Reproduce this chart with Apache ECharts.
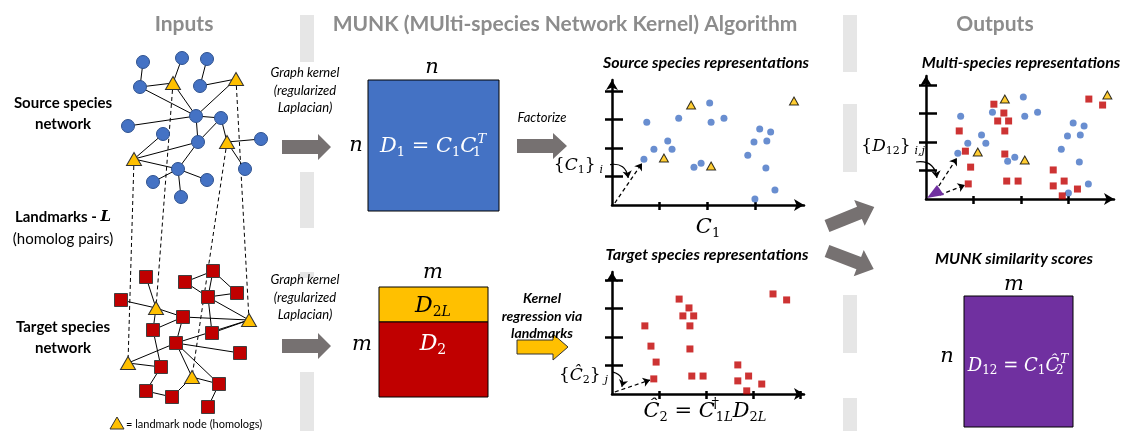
<!DOCTYPE html>
<html>
<head>
<meta charset="utf-8">
<script src="https://cdn.jsdelivr.net/npm/echarts@6/dist/echarts.min.js"></script>
<style>
  html, body { margin: 0; padding: 0; background: #fff; }
  #chart { width: 1126px; height: 431px; }
</style>
</head>
<body>
<div id="chart"></div>
<script>
// ---- network layouts (pixel positions of the drawn nodes) ----
var srcCircles = [[143,62],[182,58],[207,59],[140,87],[200,86],[196,116],[221,118],[128,126],
  [163,134],[198,142],[261,139],[178,169],[245,169],[153,182],[207,180],[181,197]];
var srcLandmarks = [[173,83],[236,79],[227,142],[134,159]];
// indices: circles 0..15, landmarks 16..19
var srcEdges = [[0,3],[1,16],[2,4],[3,16],[3,5],[16,5],[4,17],[17,5],[7,5],[5,6],[5,9],
  [8,19],[19,9],[19,11],[9,11],[11,13],[11,14],[11,15],[6,18],[18,10],[18,12],[6,9]];

var tgtSquares = [[146,277],[185,282],[213,271],[237,293],[121,300],[208,297],[183,317],[153,330],
  [212,333],[176,343],[240,353],[161,367],[219,384],[146,391],[172,397],[208,407]];
var tgtLandmarks = [[156,308],[249,320],[128,363],[192,377]];
var tgtEdges = [[0,16],[4,16],[16,6],[6,17],[16,7],[1,2],[2,3],[2,5],[1,5],[5,3],[5,17],[5,8],
  [7,6],[6,9],[8,17],[9,17],[9,10],[9,18],[18,11],[7,11],[11,13],[9,12],[9,19],[19,12],[19,14],
  [13,14],[12,15]];

// homolog pairs: [source landmark, target landmark]
var landmarkPairs = [[0,0],[1,1],[2,3],[3,2]];

// ---- embeddings (axis units) ----
var srcEmbed = [[0.73,2.91],[1.40,3.05],[2.05,3.58],[2.08,2.91],[2.35,3.05],[1.17,2.25],[0.88,1.96],
  [1.26,1.96],[0.67,1.61],[1.72,1.33],[1.87,1.47],[2.85,1.75],[2.98,2.21],[3.10,2.67],[3.33,2.56],
  [3.25,2.25],[3.23,1.30],[3.42,0.53],[3.00,0.21]];
var landmarkEmbed = [[1.66,3.51],[3.82,3.65],[1.09,1.65],[2.08,1.37]];
var tgtEmbed = [[1.43,3.33],[1.64,3.02],[1.51,2.74],[1.74,2.74],[1.66,2.39],[0.70,2.39],[0.83,1.68],
  [1.66,1.58],[0.94,1.12],[0.89,0.53],[1.70,0.63],[1.94,0.63],[2.68,1.02],[2.68,0.46],[2.91,0.63],
  [3.19,0.35],[2.87,0.11],[3.43,3.51],[3.72,3.30]];

// tick positions
var srcXTicks = [1, 2, 3];
var srcYTicks = [1, 2, 3, 4];
var tgtXTicks = [1, 2, 3, 4];
var tgtYTicks = [1, 2, 3, 4];
var multiXTicks = [1, 2, 3];
var multiYTicks = [1, 2, 3, 4];

// vectors drawn from the origin, and the curved pointers from the labels
var srcVectors = [[[0.06,0.07],[0.63,1.47]]];
var srcPointer = [[-0.04,1.42],[0.34,0.95]];
var tgtVectors = [[[0.06,0.07],[0.81,0.49]]];
var tgtPointer = [[0.02,0.77],[0.21,0.25]];
var multiVectors = [[[0.19,0.25],[0.65,1.44]], [[0.29,0.14],[0.82,0.49]]];
var multiPointer = [[-0.21,1.30],[0.23,0.74]];

var BLUE = '#4472C4', RED = '#C00000', YELLOW = '#FFC000', PURPLE = '#7030A0', GREY = '#767171';
var SANS = 'Lato, "Open Sans", sans-serif';
var MATH = '"DejaVu Serif", serif';

var chart = echarts.init(document.getElementById('chart'), null, { renderer: 'canvas' });

function netNodes(main, mainSymbol, mainSize, mainStyle, landmarks) {
  var nodes = main.map(function (p) {
    return { value: p, symbol: mainSymbol, symbolSize: mainSize, itemStyle: mainStyle };
  });
  return nodes.concat(landmarks.map(function (p) {
    return { value: p, symbol: 'triangle', symbolSize: [15, 13],
      itemStyle: { color: YELLOW, borderColor: '#333', borderWidth: 1 } };
  }));
}

function netSeries(nodes, edges) {
  return {
    type: 'graph', coordinateSystem: 'cartesian2d', xAxisIndex: 0, yAxisIndex: 0,
    layout: 'none', data: nodes,
    links: edges.map(function (e) { return { source: e[0], target: e[1] }; }),
    lineStyle: { color: '#000', width: 1, opacity: 1, curveness: 0 },
    label: { show: false }, emphasis: { disabled: true }, silent: true, z: 4
  };
}

// two axes per direction so the ticks cross the axis line
function plotAxes(grid, xMax, yMax, xTicks, yTicks) {
  var ls = { color: '#000', width: 2.5 };
  var base = { type: 'value', gridIndex: grid, min: 0, axisLabel: { show: false }, splitLine: { show: false } };
  var x1 = echarts.util.merge({ max: xMax, position: 'bottom',
    axisLine: { show: true, onZero: false, symbol: ['none', 'arrow'], symbolSize: [9, 10], lineStyle: ls },
    axisTick: { show: true, customValues: xTicks, length: 5, lineStyle: ls } }, base);
  var x2 = echarts.util.merge({ max: xMax, position: 'bottom', axisLine: { show: false },
    axisTick: { show: true, inside: true, customValues: xTicks, length: 3, lineStyle: ls } }, base);
  var y1 = echarts.util.merge({ max: yMax, position: 'left',
    axisLine: { show: true, onZero: false, symbol: ['none', 'arrow'], symbolSize: [9, 10], lineStyle: ls },
    axisTick: { show: true, customValues: yTicks, length: 7, lineStyle: ls } }, base);
  var y2 = echarts.util.merge({ max: yMax, position: 'left', axisLine: { show: false },
    axisTick: { show: true, inside: true, customValues: yTicks, length: 11, lineStyle: ls } }, base);
  return { x: [x1, x2], y: [y1, y2] };
}

function scatter(ax, data, symbol, size, style, z) {
  return { type: 'scatter', xAxisIndex: ax, yAxisIndex: ax, data: data, symbol: symbol,
    symbolSize: size, itemStyle: style, silent: true, z: z || 5 };
}

function arrows(ax, vectors, pointer) {
  return [{
    type: 'lines', coordinateSystem: 'cartesian2d', xAxisIndex: ax, yAxisIndex: ax, clip: false,
    data: vectors.map(function (v) { return { coords: v }; }),
    symbol: ['none', 'arrow'], symbolSize: 7,
    lineStyle: { color: '#000', width: 1.3, type: [4, 3], opacity: 1 }, silent: true, z: 6
  }, {
    type: 'lines', coordinateSystem: 'cartesian2d', xAxisIndex: ax, yAxisIndex: ax, clip: false,
    data: [{ coords: pointer }],
    symbol: ['none', 'arrow'], symbolSize: 7,
    lineStyle: { color: '#000', width: 1.2, curveness: 0.5, opacity: 1 }, silent: true, z: 6
  }];
}

// ---- axes ----
var pSrc = plotAxes(1, 4.03, 4.39, srcXTicks, srcYTicks);
var pTgt = plotAxes(2, 4.09, 4.28, tgtXTicks, tgtYTicks);
var pMul = plotAxes(3, 3.96, 4.32, multiXTicks, multiYTicks);

var xAxes = [{ type: 'value', gridIndex: 0, min: 0, max: 1126, show: false }]
  .concat(pSrc.x, pTgt.x, pMul.x);
var yAxes = [{ type: 'value', gridIndex: 0, min: 0, max: 431, inverse: true, show: false }]
  .concat(pSrc.y, pTgt.y, pMul.y);

// ---- series ----
var series = [
  {
    type: 'lines', coordinateSystem: 'cartesian2d', xAxisIndex: 0, yAxisIndex: 0,
    data: landmarkPairs.map(function (p) { return { coords: [srcLandmarks[p[0]], tgtLandmarks[p[1]]] }; }),
    lineStyle: { color: '#000', width: 1, type: [4, 3], opacity: 1 }, silent: true, z: 3
  },
  netSeries(netNodes(srcCircles, 'circle', 13, { color: BLUE, borderColor: '#2F528F', borderWidth: 1 }, srcLandmarks), srcEdges),
  netSeries(netNodes(tgtSquares, 'rect', 13, { color: RED, borderColor: '#404040', borderWidth: 1 }, tgtLandmarks), tgtEdges),

  scatter(1, srcEmbed, 'circle', 7, { color: BLUE }),
  scatter(1, landmarkEmbed, 'triangle', [9, 8], { color: YELLOW, borderColor: '#000', borderWidth: 1 }, 7),
  scatter(3, tgtEmbed, 'rect', 7, { color: RED }),
  scatter(5, srcEmbed, 'circle', 7, { color: BLUE }),
  scatter(5, tgtEmbed, 'rect', 7, { color: RED }),
  scatter(5, landmarkEmbed, 'triangle', [9, 8], { color: YELLOW, borderColor: '#000', borderWidth: 1 }, 7)
].concat(arrows(1, srcVectors, srcPointer), arrows(3, tgtVectors, tgtPointer), arrows(5, multiVectors, multiPointer));

// ---- decorations ----
function txt(x, y, text, font, fill, align, rich) {
  var st = { x: x, y: y, text: text, font: font, fill: fill || '#000',
    align: align || 'center', verticalAlign: 'middle',
    textAlign: align || 'center', textVerticalAlign: 'middle' };
  if (rich) st.rich = rich;
  return { type: 'text', silent: true, z: 20, style: st };
}

function mathRich(color, size) {
  var s = Math.round(size * 0.64);
  var down = [Math.round(size * 0.55), 0, 0, 0];
  var up = [0, 0, Math.round(size * 0.7), 0];
  return {
    m: { fontFamily: MATH, fontStyle: 'italic', fontSize: size, fill: color },
    e: { fontFamily: MATH, fontSize: size, fill: color },
    s: { fontFamily: MATH, fontSize: s, fill: color, padding: down },
    sl: { fontFamily: MATH, fontStyle: 'italic', fontSize: s, fill: color, padding: down },
    s0: { fontFamily: MATH, fontSize: s, fill: color, width: 1, padding: down },
    t: { fontFamily: MATH, fontStyle: 'italic', fontSize: s, fill: color, padding: up },
    t0: { fontFamily: MATH, fontSize: s + 2, fill: color, width: 1, padding: up },
    si: { fontFamily: MATH, fontStyle: 'italic', fontSize: s, fill: color, padding: [Math.round(size * 0.5), 0, 0, 4] }
  };
}

function rect(x, y, w, h, fill, stroke, z) {
  return { type: 'rect', silent: true, z: z || 1, shape: { x: x, y: y, width: w, height: h },
    style: { fill: fill, stroke: stroke || null, lineWidth: stroke ? 1 : 0 } };
}

function hArrow(x0, x1, cy, hs, fill, stroke) {
  var a = 7, b = 13;
  return { type: 'polygon', silent: true, z: 10,
    shape: { points: [[x0, cy - a], [hs, cy - a], [hs, cy - b], [x1, cy], [hs, cy + b], [hs, cy + a], [x0, cy + a]] },
    style: { fill: fill, stroke: stroke || null, lineWidth: stroke ? 1 : 0 } };
}

function rArrow(x, y, len, rot) {
  return { type: 'polygon', silent: true, z: 10, x: x, y: y, rotation: rot,
    shape: { points: [[0, -6.5], [len - 16, -6.5], [len - 16, -14], [len, 0], [len - 16, 14], [len - 16, 6.5], [0, 6.5]] },
    style: { fill: GREY } };
}

var SEP = '#E6E6E6';
var graphics = [
  // separators
  rect(300, 15, 14, 47, SEP), rect(300, 172, 14, 56, SEP), rect(300, 272, 14, 6, SEP), rect(300, 372, 14, 59, SEP),
  rect(843, 15, 14, 57, SEP), rect(843, 104, 14, 68, SEP), rect(843, 295, 14, 58, SEP), rect(843, 398, 14, 33, SEP),

  // headings
  txt(184, 24, 'Inputs', 'bold 21px ' + SANS, '#8C8C8C'),
  txt(565, 24, 'MUNK (MUlti-species Network Kernel) Algorithm', 'bold 21px ' + SANS, '#8C8C8C'),
  txt(995, 24, 'Outputs', 'bold 21px ' + SANS, '#8C8C8C'),

  // left labels
  txt(63, 103, 'Source species', 'bold 15px ' + SANS),
  txt(63, 124, 'network', 'bold 15px ' + SANS),
  txt(63, 217, '{b|Landmarks - }{l|L}', 'bold 15px ' + SANS, '#000', 'center', {
    b: { fontFamily: SANS, fontWeight: 'bold', fontSize: 15 },
    l: { fontFamily: MATH, fontWeight: 'bold', fontStyle: 'italic', fontSize: 15 } }),
  txt(63, 239, '(homolog pairs)', '15px ' + SANS),
  txt(63, 327, 'Target species', 'bold 15px ' + SANS),
  txt(63, 348, 'network', 'bold 15px ' + SANS),

  // legend
  { type: 'polygon', silent: true, z: 20, shape: { points: [[110, 429], [117, 417], [124, 429]] },
    style: { fill: YELLOW, stroke: '#333', lineWidth: 1 } },
  txt(126, 424, '= landmark node (homologs)', '11px ' + SANS, '#000', 'left'),

  // graph kernel captions
  txt(305, 73, 'Graph kernel', 'italic 13px ' + SANS),
  txt(305, 91, '(regularized', 'italic 13px ' + SANS),
  txt(305, 108, 'Laplacian)', 'italic 13px ' + SANS),
  txt(305, 280, 'Graph kernel', 'italic 13px ' + SANS),
  txt(305, 298, '(regularized', 'italic 13px ' + SANS),
  txt(305, 315, 'Laplacian)', 'italic 13px ' + SANS),
  txt(542, 118, 'Factorize', 'italic 13px ' + SANS),
  txt(542, 298, 'Kernel', 'bold italic 14px ' + SANS),
  txt(542, 316, 'regression via', 'bold italic 14px ' + SANS),
  txt(542, 333, 'landmarks', 'bold italic 14px ' + SANS),

  // block arrows
  hArrow(282, 331, 147, 318, GREY),
  hArrow(282, 331, 346, 318, GREY),
  hArrow(517, 567, 146, 553, GREY),
  hArrow(517, 568, 347, 553, YELLOW, '#333'),
  rArrow(827, 226, 51, 0.384),
  rArrow(827, 251, 50, -0.366),

  // matrices
  rect(368, 80, 131, 131, BLUE, '#000', 2),
  txt(433, 147, '{m|D}{s|1}{e| = }{m|C}{s|1}{m|C}{s0|1}{t|T}', '21px ' + MATH, '#fff', 'center', mathRich('#fff', 21)),
  txt(432, 68, 'n', 'italic 21px ' + MATH),
  txt(356, 146, 'n', 'italic 21px ' + MATH),

  rect(379, 287, 109, 35, YELLOW, '#000', 2),
  rect(379, 322, 109, 75, RED, '#000', 2),
  txt(433, 306, '{m|D}{s|2}{sl|L}', '22px ' + MATH, '#000', 'center', mathRich('#000', 22)),
  txt(433, 344, '{m|D}{s|2}', '22px ' + MATH, '#fff', 'center', mathRich('#fff', 22)),
  txt(433, 273, 'm', 'italic 21px ' + MATH),
  txt(362, 345, 'm', 'italic 21px ' + MATH),

  rect(964, 296, 109, 131, PURPLE, '#000', 2),
  txt(1018, 366, '{m|D}{s|12}{e| = }{m|C}{s|1}{m|C\u0302}{s0|2}{t|T}', '18px ' + MATH, '#fff', 'center', mathRich('#fff', 18)),
  txt(1014, 285, 'm', 'italic 21px ' + MATH),
  txt(947, 357, 'n', 'italic 21px ' + MATH),

  // plot titles
  txt(706, 63, 'Source species representations', 'bold italic 16px ' + SANS),
  txt(707, 255, 'Target species representations', 'bold italic 16px ' + SANS),
  txt(1021, 63, 'Multi-species representations', 'bold italic 16px ' + SANS),
  txt(1014, 259, 'MUNK similarity scores', 'bold italic 16px ' + SANS),

  // plot math labels
  txt(708, 228, '{m|C}{s|1}', '21px ' + MATH, '#000', 'center', mathRich('#000', 21)),
  txt(705, 412, '{m|C\u0302}{s|2}{e| = }{m|C}{t0|\u2020}{s|1}{sl|L}{m|D}{s|2}{sl|L}', '21px ' + MATH, '#000', 'center', mathRich('#000', 21)),
  txt(603, 166, '{e|{}{m|C}{s|1}}{si|i}', '17px ' + MATH, '#000', 'right', mathRich('#000', 17)),
  txt(608, 376, '{e|{}{m|C\u0302}{s|2}}{si|j}', '17px ' + MATH, '#000', 'right', mathRich('#000', 17)),
  txt(925, 147, '{e|{}{m|D}{s|12}}{si|i,j}', '17px ' + MATH, '#000', 'right', mathRich('#000', 17)),

  // similarity wedge at the origin
  { type: 'polygon', silent: true, z: 8, shape: { points: [[927, 198], [937, 185], [944, 195]] },
    style: { fill: PURPLE } }
];

chart.setOption({
  backgroundColor: '#fff',
  animation: false,
  grid: [
    { left: 0, top: 0, width: 1126, height: 431 },
    { left: 612, top: 80, width: 192, height: 125 },
    { left: 612, top: 272, width: 192, height: 122 },
    { left: 926, top: 76, width: 188, height: 123 }
  ],
  xAxis: xAxes,
  yAxis: yAxes,
  series: series,
  graphic: { elements: graphics }
});
</script>
</body>
</html>
